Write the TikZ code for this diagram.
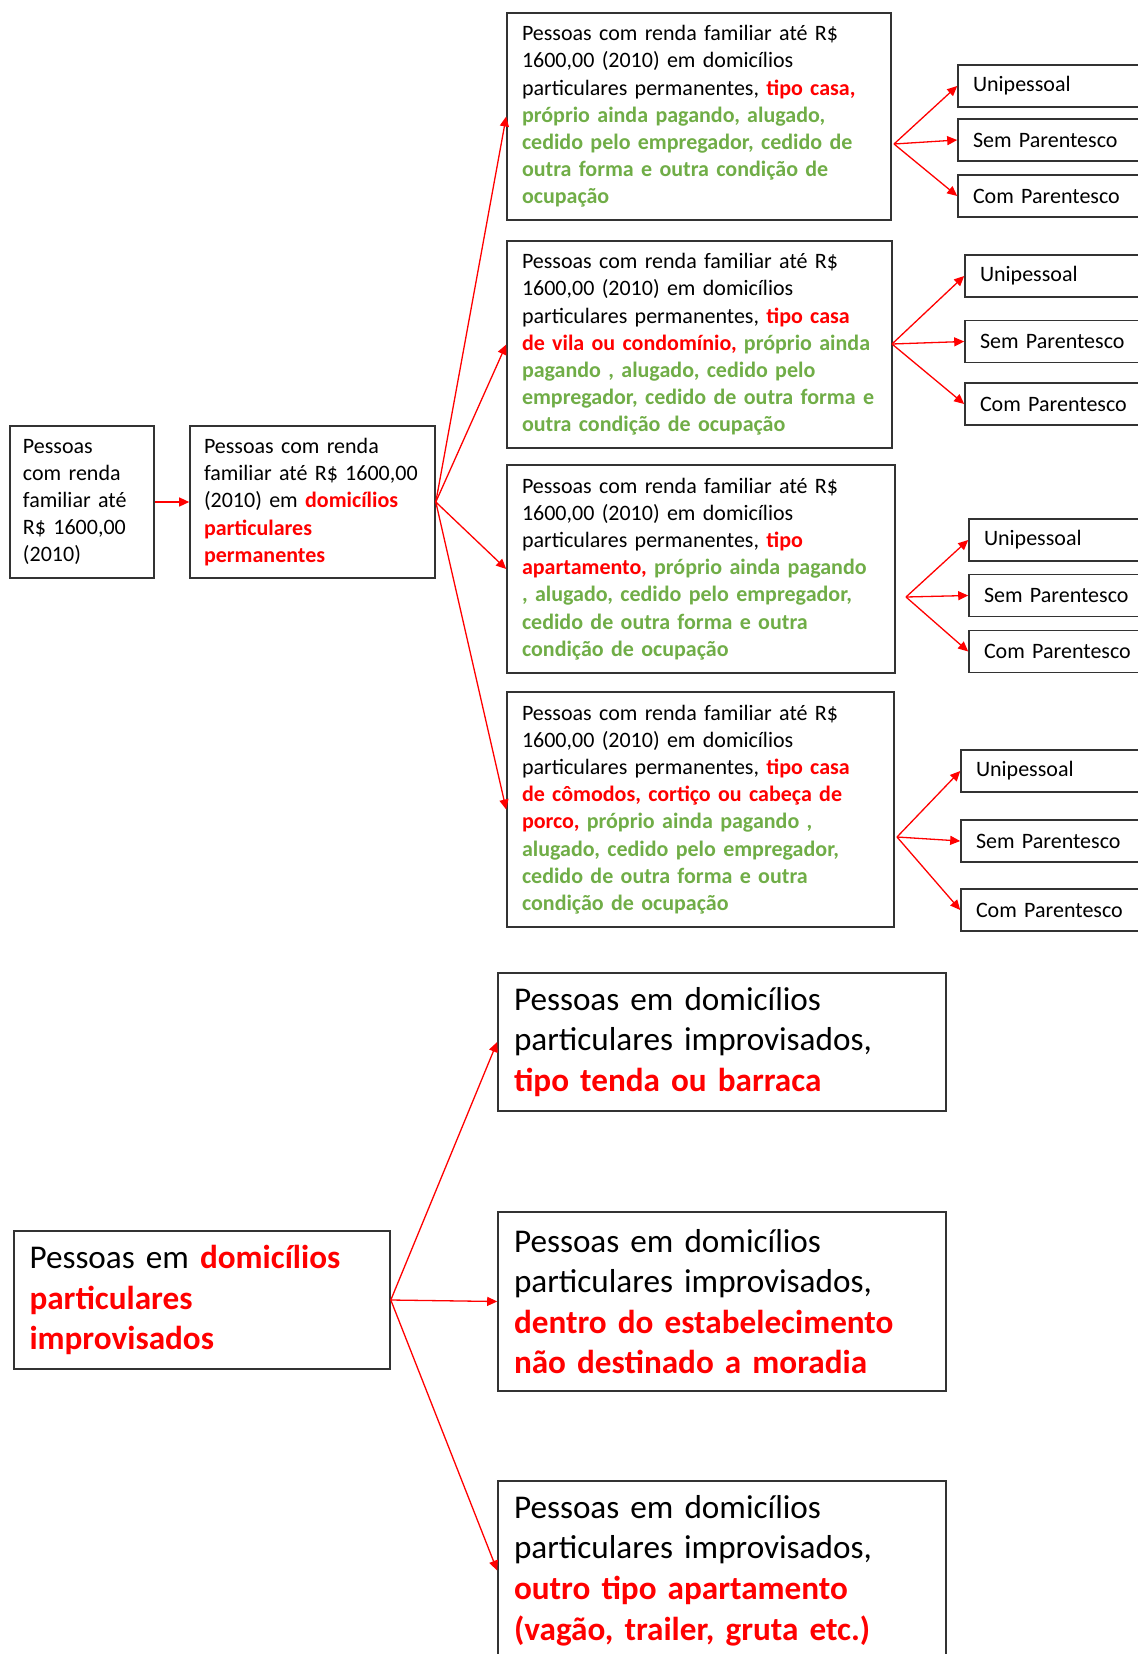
\documentclass[tikz,border=0pt]{standalone}
\usepackage{fontspec}
\setmainfont{Carlito}
\usetikzlibrary{arrows.meta}
\definecolor{rd}{HTML}{FF0000}
\definecolor{gr}{HTML}{70AD47}
\newcommand\Rd[1]{\textcolor{rd}{\bfseries #1}}
\newcommand\Gr[1]{\textcolor{gr}{\bfseries #1}}
\newcommand\fsmall{\fontsize{11pt}{13.6pt}\selectfont}
\newcommand\fbig{\fontsize{16.6pt}{20.3pt}\selectfont}
\begin{document}
\begin{tikzpicture}[x=0.5pt,y=-0.5pt,
 box/.style={draw=black!80, line width=0.8pt, rectangle, align=left, inner ysep=0pt, font=\fsmall, text=black},
 bigbox/.style={box, font=\fbig, minimum width=224pt, text width=208pt, inner xsep=8pt},
 sub/.style={box, minimum height=21pt, inner xsep=7.5pt},
 arr/.style={draw=rd, line width=0.65pt, -{Triangle[length=5pt,width=4.5pt]}},
]
\useasboundingbox (0,0) rectangle (1137,1654);

% left chain
\node[box, minimum width=72pt, minimum height=76pt, text width=59pt, inner xsep=6.5pt] (b1) at (82,502)
 {Pessoas\\com renda\\familiar até\\\mbox{R\$ 1600,00}\\(2010)};
\node[box, minimum width=122.5pt, minimum height=76pt, text width=108.5pt, inner xsep=7pt] (b2) at (312.5,502)
 {Pessoas com renda\\\mbox{familiar até R\$ 1600,00}\\\mbox{(2010) em \Rd{domicílios}}\\\Rd{particulares}\\\Rd{permanentes}};

% four category boxes
\node[box, minimum width=192pt, minimum height=103.5pt, text width=177pt, inner xsep=7.5pt] (A) at (699,116.5)
 {\mbox{Pessoas com renda familiar até R\$}\\\mbox{1600,00 (2010) em domicílios}\\\mbox{particulares permanentes, \Rd{tipo casa,}}\\\mbox{\Gr{próprio ainda pagando, alugado,}}\\\mbox{\Gr{cedido pelo empregador, cedido de}}\\\mbox{\Gr{outra forma e outra condição de}}\\\Gr{ocupação}};
\node[box, minimum width=192.5pt, minimum height=103.5pt, text width=177.5pt, inner xsep=7.5pt] (B) at (699.5,344.5)
 {\mbox{Pessoas com renda familiar até R\$}\\\mbox{1600,00 (2010) em domicílios}\\\mbox{particulares permanentes, \Rd{tipo casa}}\\\mbox{\Rd{de vila ou condomínio,} \Gr{próprio ainda}}\\\mbox{\Gr{pagando , alugado, cedido pelo}}\\\mbox{\Gr{empregador, cedido de outra forma e}}\\\mbox{\Gr{outra condição de ocupação}}};
\node[box, minimum width=194pt, minimum height=104pt, text width=179pt, inner xsep=7.5pt] (C) at (701,569)
 {\mbox{Pessoas com renda familiar até R\$}\\\mbox{1600,00 (2010) em domicílios}\\\mbox{particulares permanentes, \Rd{tipo}}\\\mbox{\Rd{apartamento,} \Gr{próprio ainda pagando}}\\\mbox{\Gr{, alugado, cedido pelo empregador,}}\\\mbox{\Gr{cedido de outra forma e outra}}\\\mbox{\Gr{condição de ocupação}}};
\node[box, minimum width=193.5pt, minimum height=117.5pt, text width=178.5pt, inner xsep=7.5pt] (D) at (700.5,809.5)
 {\mbox{Pessoas com renda familiar até R\$}\\\mbox{1600,00 (2010) em domicílios}\\\mbox{particulares permanentes, \Rd{tipo casa}}\\\mbox{\Rd{de cômodos, cortiço ou cabeça de}}\\\mbox{\Rd{porco,} \Gr{próprio ainda pagando ,}}\\\mbox{\Gr{alugado, cedido pelo empregador,}}\\\mbox{\Gr{cedido de outra forma e outra}}\\\mbox{\Gr{condição de ocupação}}};

% sub boxes A
\node[sub, minimum width=96pt, text width=81pt] (A1) at (1054,86) {Unipessoal};
\node[sub, minimum width=96pt, text width=81pt] (A2) at (1054,140) {Sem Parentesco};
\node[sub, minimum width=96pt, text width=81pt] (A3) at (1054,196) {Com Parentesco};
% sub boxes B
\node[sub, minimum width=92.5pt, text width=77.5pt] (B1) at (1057.5,276) {Unipessoal};
\node[sub, minimum width=92.5pt, text width=77.5pt] (B2) at (1057.5,341.5) {Sem Parentesco};
\node[sub, minimum width=92.5pt, text width=77.5pt] (B3) at (1057.5,404) {Com Parentesco};
% sub boxes C
\node[sub, minimum width=90.5pt, text width=75.5pt] (C1) at (1059.5,540) {Unipessoal};
\node[sub, minimum width=90.5pt, text width=75.5pt] (C2) at (1059.5,595.5) {\mbox{Sem Parentesco}};
\node[sub, minimum width=90.5pt, text width=75.5pt] (C3) at (1059.5,651.5) {\mbox{Com Parentesco}};
% sub boxes D
\node[sub, minimum width=94.5pt, text width=79.5pt] (D1) at (1055.5,771) {Unipessoal};
\node[sub, minimum width=94.5pt, text width=79.5pt] (D2) at (1055.5,841) {Sem Parentesco};
\node[sub, minimum width=94.5pt, text width=79.5pt] (D3) at (1055.5,910) {Com Parentesco};

% fan-out origins
\coordinate (oA) at (894,144);
\coordinate (oB) at (892,344);
\coordinate (oC) at (906,597);
\coordinate (oD) at (897,837);

% bottom section
\node[box, font=\fbig, minimum width=188pt, minimum height=69pt, text width=172.5pt, inner xsep=7.75pt] (E) at (202,1300)
 {Pessoas em \Rd{domicílios}\\\Rd{particulares}\\\Rd{improvisados}};
\node[bigbox, minimum height=69pt] (F) at (722,1042)
 {Pessoas em domicílios\\particulares improvisados,\\\Rd{tipo tenda ou barraca}};
\node[bigbox, minimum height=89.5pt] (G) at (722,1301.5)
 {Pessoas em domicílios\\particulares improvisados,\\\Rd{dentro do estabelecimento}\\\Rd{não destinado a moradia}};
\node[bigbox, minimum height=89.5pt] (H) at (722,1570.5)
 {Pessoas em domicílios\\particulares improvisados,\\\Rd{outro tipo apartamento}\\\Rd{(vagão, trailer, gruta etc.)}};

% connectors
\draw[arr] (b1.east) -- (b2.west);
\foreach \t in {A,B,C,D} \draw[arr] (b2.east) -- (\t.west);
\foreach \t in {A,B,C,D} {
  \foreach \i in {1,2,3} \draw[arr] (o\t) -- (\t\i.west);
}
\foreach \t in {F,G,H} \draw[arr] (E.east) -- (\t.west);
\end{tikzpicture}
\end{document}
